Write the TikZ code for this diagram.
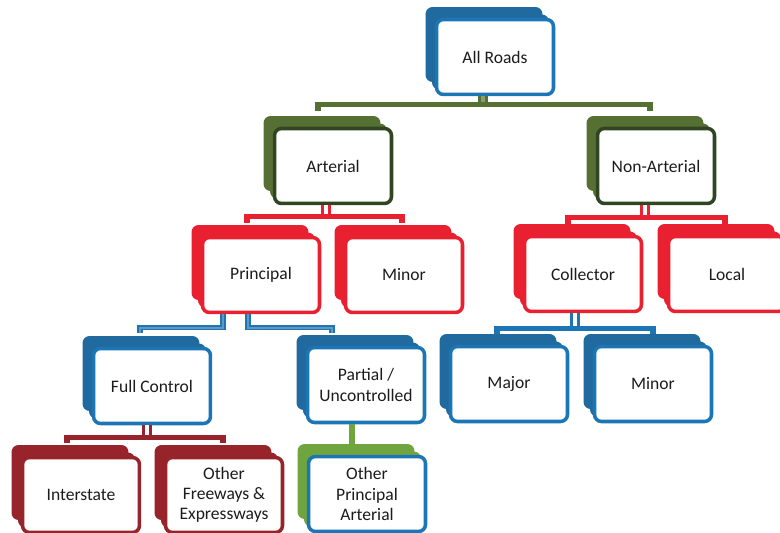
\documentclass[tikz,border=0pt]{standalone}
\usepackage{fontspec}
\usepackage{tikz}
\usetikzlibrary{calc,shadows}
\newfontfamily\roadfont{Carlito}
\definecolor{rdblue}{RGB}{32,106,160}
\definecolor{rdbluel}{RGB}{28,118,182}
\definecolor{rdgreen}{RGB}{86,112,52}
\definecolor{rdgreend}{RGB}{48,70,34}
\definecolor{rdred}{RGB}{232,32,48}
\definecolor{rddred}{RGB}{150,36,42}
\definecolor{rdlgreen}{RGB}{112,164,62}
\definecolor{rdtext}{RGB}{28,28,28}

\begin{document}
\begin{tikzpicture}[
    x=0.02cm, y=-0.02cm,
    card/.style 2 args={
        rectangle,
        rounded corners=4pt,
        draw=#2,
        line width=2pt,
        fill=white,
        minimum width=2.34cm,
        minimum height=1.5cm,
        align=center,
        font=\roadfont\fontsize{10}{11.5}\selectfont,
        text=rdtext,
        general shadow={fill=#1, shadow xshift=-0.22cm, shadow yshift=0.25cm},
        general shadow={fill=#1, shadow xshift=-0.09cm, shadow yshift=0.10cm}
    },
    stub/.style={
        line width=2pt,
        double=white,
        double distance=1.8pt
    },
    thinbus/.style={
        line width=0.9pt,
        double=rdblue!70,
        double distance=1.2pt
    },
    bus/.style={
        line width=3pt
    },
    link/.style={
        line width=3pt
    }
]
\useasboundingbox (0,0) rectangle (780,533);
\clip (0,0) rectangle (780,533);

% Root
\node[card={rdblue}{rdbluel}] (all) at (495,57) {All Roads};

% Functional classes
\node[card={rdgreen}{rdgreend}] (art) at (333,166) {Arterial};
\node[card={rdgreen}{rdgreend}] (nart) at (656,166) {Non-Arterial};

% Arterial / Non-Arterial children
\node[card={rdred}{rdred}] (pri) at (261,275) {Principal};
\node[card={rdred}{rdred}] (minA) at (404,275) {Minor};
\node[card={rdred}{rdred}] (col) at (583,274) {Collector};
\node[card={rdred}{rdred}] (loc) at (727,274) {Local};

% Access control / collector types
\node[card={rdblue}{rdbluel}] (full) at (152,386) {Full Control};
\node[card={rdblue}{rdbluel}] (part) at (366,385) {Partial /\\Uncontrolled};
\node[card={rdblue}{rdbluel}] (major) at (509,384) {Major};
\node[card={rdblue}{rdbluel}] (minC) at (653,384) {Minor};

% Bottom row
\node[card={rddred}{rddred}] (inter) at (81,495) {Interstate};
\node[card={rddred}{rddred}] (ofw) at (224,495) {Other\\Freeways \&\\Expressways};
\node[card={rdlgreen}{rdbluel}] (opa) at (367,494) {Other\\Principal\\Arterial};

% All Roads bus
\draw[stub, draw=rdgreen, double=rdgreen!70] ($(all.south)+(-12,0)$) -- ++(0,9);
\draw[bus, rdgreen] ($(art.north)+(-15,-16)$) -- ++(0,-6) -| ($(nart.north)+(-6,-16)$);

% Arterial bus
\draw[stub, draw=rdred] ($(art.south)+(-7,0)$) -- ++(0,12);
\draw[bus, rdred] ($(pri.north)+(-14,-13)$) -- ++(0,-6) -| ($(minA.north)+(-2,-13)$);

% Non-Arterial bus
\draw[stub, draw=rdred] ($(nart.south)+(-11,0)$) -- ++(0,13);
\draw[bus, rdred] ($(col.north)+(-15,-11)$) -- ++(0,-6) -| ($(loc.north)+(-2,-11)$);

% Principal branches
\draw[thinbus, rdbluel] ($(pri.south)+(-38,0)$) |- ($(full.north)+(-12,-19)$) -- ++(0,5);
\draw[thinbus, rdbluel] ($(pri.south)+(-13,0)$) |- ($(part.north)+(-34,-18)$) -- ++(0,5);

% Full Control bus
\draw[stub, draw=rddred] ($(full.south)+(-5,0)$) -- ++(0,12);
\draw[bus, rddred] ($(inter.north)+(-14,-13)$) -- ++(0,-5) -| ($(ofw.north)+(-1,-13)$);

% Partial / Uncontrolled link
\draw[link, rdlgreen] ($(part.south)+(-14,0)$) -- ($(opa.north)+(-15,-9)$);

% Collector bus
\draw[stub, draw=rdbluel] ($(col.south)+(-8,0)$) -- ++(0,14);
\draw[bus, rdbluel] ($(major.north)+(-12,-11)$) -- ++(0,-5) -| ($(minC.north)+(0,-11)$);

\end{tikzpicture}
\end{document}
